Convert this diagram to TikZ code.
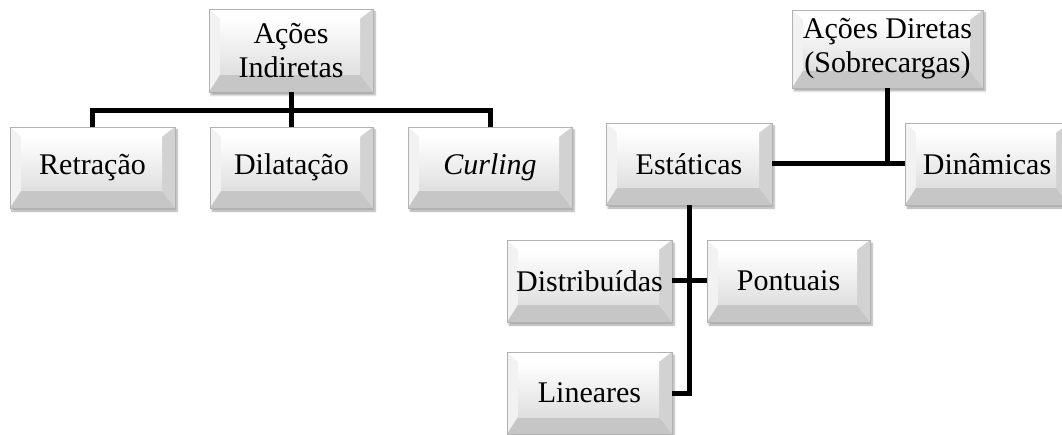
\documentclass[tikz,border=0pt]{standalone}
\usepackage{fontspec}
\setmainfont{Liberation Serif}
\usetikzlibrary{shadows.blur}

\tikzset{%
  bevelbox/.style={%
    minimum width=164pt, minimum height=81pt, inner sep=0pt,%
    align=center, font=\fontsize{30}{34}\selectfont,%
    draw=gray!60, line width=0.8pt, fill=gray!10,%
    blur shadow={shadow xshift=2pt, shadow yshift=-3pt,%
      shadow blur steps=6, shadow opacity=35},%
    path picture={%
      \coordinate (bNW) at (path picture bounding box.north west);%
      \coordinate (bNE) at (path picture bounding box.north east);%
      \coordinate (bSW) at (path picture bounding box.south west);%
      \coordinate (bSE) at (path picture bounding box.south east);%
      \coordinate (iNW) at ([shift={(11pt,-10pt)}]bNW);%
      \coordinate (iNE) at ([shift={(-13pt,-10pt)}]bNE);%
      \coordinate (iSW) at ([shift={(11pt,17pt)}]bSW);%
      \coordinate (iSE) at ([shift={(-13pt,17pt)}]bSE);%
      \fill[white] (bNW) -- (bNE) -- (iNE) -- (iNW) -- cycle;%
      \fill[gray!10] (bNW) -- (iNW) -- (iSW) -- (bSW) -- cycle;%
      \fill[gray!35] (bNE) -- (bSE) -- (iSE) -- (iNE) -- cycle;%
      \fill[gray!45] (bSW) -- (iSW) -- (iSE) -- (bSE) -- cycle;%
      \shade[top color=white, bottom color=gray!25] (iNW) rectangle (iSE);%
    }},%
  conn/.style={line width=5pt, line join=miter}%
}

\begin{document}
\begin{tikzpicture}[x=1pt,y=-1pt]
  \useasboundingbox (0,0) rectangle (1062,435);%
  %
  % acoes indiretas
  \node[bevelbox, minimum height=83pt] (acInd) at (291,50.5) {Ações\\Indiretas};%
  \node[bevelbox, minimum width=165pt] (retr) at (92.5,167.5) {Retração};%
  \node[bevelbox, minimum width=163pt] (dilat) at (291.5,167.5) {Dilatação};%
  \node[bevelbox] (curl) at (490,167.5) {\textit{Curling}};%
  \foreach \c in {retr,curl}%
    \draw[conn] (acInd.south) -- ++(0,18) -| (\c.north);%
  \draw[conn] (acInd.south) -- (acInd.south |- dilat.north);%
  %
  % acoes diretas
  \node[bevelbox, minimum width=191pt, minimum height=78pt] (acDir) at (887.5,49) {Ações Diretas\\(Sobrecargas)};%
  \node[bevelbox, minimum width=166pt, minimum height=82pt] (estat) at (689,164) {Estáticas};%
  \node[bevelbox, minimum height=82pt] (dinam) at (987,164) {Dinâmicas};%
  \node[bevelbox, minimum width=165pt, minimum height=82pt] (distr) at (589.5,281) {Distribuídas};%
  \node[bevelbox, minimum width=163pt, minimum height=82pt] (pont) at (788.5,281) {Pontuais};%
  \node[bevelbox, minimum width=165pt, minimum height=82pt] (linear) at (589.5,393) {Lineares};%
  \draw[conn] (estat.east) -- (dinam.west);%
  \draw[conn] (acDir.south) -- (acDir.south |- estat.east);%
  \draw[conn] (estat.south) |- (linear.east);%
  \draw[conn] (distr.east) -- (pont.west);%
\end{tikzpicture}
\end{document}
